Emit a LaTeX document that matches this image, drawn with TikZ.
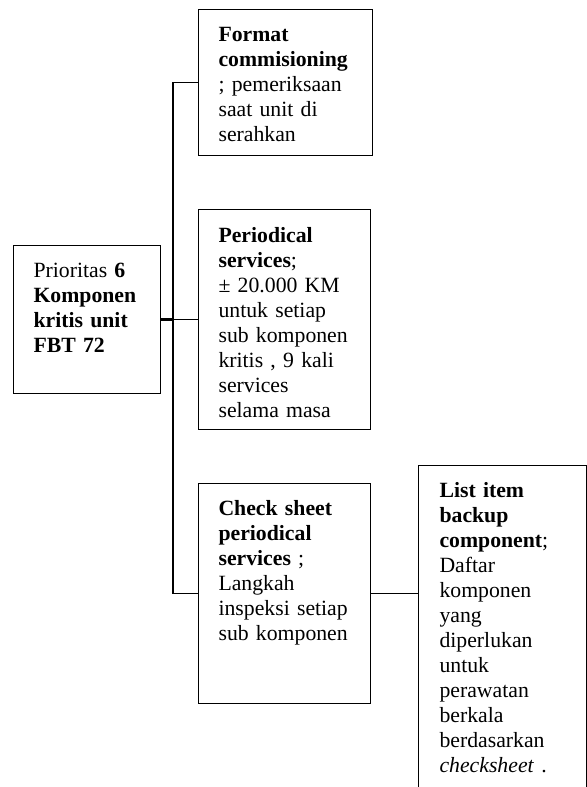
\documentclass[tikz,border=0pt]{standalone}
\usepackage{fontspec}
\setmainfont{Liberation Serif}
\begin{document}
\begin{tikzpicture}[
    x=0.552pt, y=-0.552pt,
    line width=0.6pt,
    box/.style={draw, rectangle, anchor=north west, inner sep=0pt},
    txt/.style={anchor=north west, inner sep=0pt, align=left, text width=165pt,
        font=\fontsize{12}{13.8}\selectfont}
]
\path[use as bounding box, clip] (0,0) rectangle (587,787);
\node[box, minimum width=147*0.552pt, minimum height=148*0.552pt] (main) at (13,245) {};
\node[box, minimum width=174*0.552pt, minimum height=146*0.552pt] (fmt) at (198,9) {};
\node[box, minimum width=172*0.552pt, minimum height=220*0.552pt] (per) at (198,209) {};
\node[box, minimum width=172*0.552pt, minimum height=220*0.552pt] (chk) at (198,483) {};
\node[box, minimum width=168*0.552pt, minimum height=360*0.552pt] (lst) at (418,465) {};

\node[txt] (main-txt) at ([shift={(20,18)}]main.north west)
    {Prioritas \textbf{6}\\ \textbf{Komponen}\\ \textbf{kritis unit}\\ \textbf{FBT 72}};
\node[txt] (fmt-txt) at ([shift={(20,18)}]fmt.north west)
    {\textbf{Format}\\ \textbf{commisioning}\\ ; pemeriksaan\\ saat unit di\\ serahkan};
\node[txt] (per-txt) at ([shift={(20,18)}]per.north west)
    {\textbf{Periodical}\\ \textbf{services};\\ ± 20.000 KM\\ untuk setiap\\ sub komponen\\ kritis , 9 kali\\ services\\ selama masa};
\node[txt] (chk-txt) at ([shift={(20,17)}]chk.north west)
    {\textbf{Check sheet}\\ \textbf{periodical}\\ \textbf{services} ;\\ Langkah\\ inspeksi setiap\\ sub komponen};
\node[txt] (lst-txt) at ([shift={(21,17)}]lst.north west)
    {\textbf{List item}\\ \textbf{backup}\\ \textbf{component};\\ Daftar\\ komponen\\ yang\\ diperlukan\\ untuk\\ perawatan\\ berkala\\ berdasarkan\\ \textit{checksheet} .};

\coordinate (spine) at (173,0);
\draw (fmt.west) -- (fmt.west -| spine) -- (chk.west -| spine) -- (chk.west);
\draw (main.east) -- (per.west);
\draw[line width=1.6pt] (main.east) -- (main.east -| spine);
\draw (chk.east) -- (chk.east -| lst.west);
\end{tikzpicture}
\end{document}
